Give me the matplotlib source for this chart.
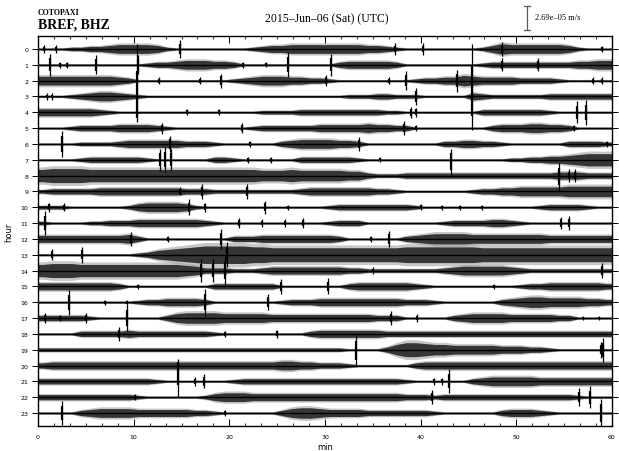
import numpy as np
import matplotlib
matplotlib.use("Agg")
import matplotlib.pyplot as plt
from matplotlib.lines import Line2D

# ---------------- data read from the helicorder ----------------
hours = list(range(24))
minute_ticks = [0, 10, 20, 30, 40, 50, 60]

# envelope half-amplitude per minute (hex digit, 1 step = AMP_STEP of a row)
AMP_STEP = 0.065
envelope = [
    "1112233455 5542111111 1123445555 5555443211 1111112465 5555542111",  # 0
    "1111111111 1233455544 3111111111 1344444311 1111112333 3333334455",  # 1
    "5555555543 1111111111 2345554433 2111111112 3344654444 3333211111",  # 2
    "1112345543 2111111111 1111111111 1122233222 1111143222 2223333333",  # 3
    "4444443211 1111111111 1112222333 3333332211 1111113333 3332111111",  # 4
    "1112333344 4432111111 1123333334 4444544331 1111111344 4554431111",  # 5
    "1111222234 4444433321 1111134555 5443111111 1133443321 1111133332",  # 6
    "1111233333 3211111133 2111111333 3332111111 1111111112 2334456777",  # 7
    "7888877777 7777777777 7776667666 6655322233 3333333333 3333444333",  # 8
    "2333334444 4444433322 2222222344 4444433211 1111123344 5555566666",  # 9
    "2221111112 4555542111 1111111111 2333333332 1111111111 1123333211",  # 10
    "2111122333 4444444321 1111111111 2333111111 1123333443 2111111111",  # 11
    "4444444445 3111111111 3334444444 4311111134 5666655555 5554444444",  # 12
    "1111111111 2356789aaa aa99888888 8888888899 9999998888 8888888888",  # 13
    "7888777777 7777765333 2223444444 4433222222 2234555554 3222222222",  # 14
    "4444444431 1111111133 3333311111 1134444443 2111111111 2334444443",  # 15
    "1111111111 2334444311 1111123334 4444444433 3211111134 5665555443",  # 16
    "3333321111 1113566665 5555444444 4444433311 1113455554 4444331111",  # 17
    "1111333334 3333333321 1111111134 4444443333 3333333333 3333333333",  # 18
    "2222222222 2222222222 2222222222 2211113688 7665555544 4332111111",  # 19
    "3444444444 4444444444 4444455443 3321111113 4444444444 4444444444",  # 20
    "3333333333 3321111111 2333333333 3333333321 1111134555 5544444444",  # 21
    "3333333333 2111111245 5544444444 4444444433 3233333333 3333332111",  # 22
    "1111345555 4444443321 1111135665 4444333333 3211111134 4432111111",  # 23
]

# impulsive events: (hour, minute, extent up [rows], extent down [rows])
spikes = [
    (0, 0.6, .25, .25), (0, 1.9, .25, .25), (0, 14.8, .55, .55), (0, 37.3, .35, .35),
    (0, 40.2, .35, .35), (0, 48.5, .45, .45), (0, 59.0, .2, .2),
    (1, 1.3, .7, .7), (1, 2.3, .2, .2), (1, 3.0, .2, .2), (1, 6.1, .6, .6), (1, 10.5, .6, .6),
    (1, 21.4, .2, .2), (1, 23.8, .15, .15), (1, 26.1, .8, .8), (1, 30.6, .7, .7),
    (1, 48.5, .4, .4), (1, 52.3, .4, .4),
    (2, 12.6, .2, .2), (2, 16.9, .2, .2), (2, 19.1, .45, .45), (2, 30.1, .35, .35),
    (2, 36.7, .2, .2), (2, 38.5, .6, .6), (2, 43.8, .7, .7), (2, 58.0, .2, .2), (2, 59.0, .2, .2),
    (3, 0.9, .2, .2), (3, 1.5, .2, .2), (3, 39.5, .55, .55), (3, 45.4, 3.3, 2.1),
    (4, 10.4, 4.3, 0.6), (4, 15.6, .2, .2), (4, 18.9, .2, .2), (4, 39.0, .35, .35),
    (4, 39.5, .3, .3), (4, 56.3, .7, .7), (4, 57.3, .8, .8),
    (5, 13.0, .35, .35), (5, 21.3, .3, .3), (5, 38.3, .45, .45), (5, 39.5, .2, .2), (5, 56.0, .2, .2),
    (6, 2.5, .8, .8), (6, 13.8, .5, .5), (6, 22.2, .2, .2), (6, 33.6, .45, .45), (6, 59.5, .2, .2),
    (7, 12.8, .7, .7), (7, 13.3, .8, .8), (7, 13.9, .7, .7), (7, 22.0, .2, .2), (7, 24.4, .2, .2),
    (7, 35.7, .15, .15), (7, 43.2, .7, 1.1),
    (8, 54.5, .8, 1.0), (8, 55.5, .4, .4), (8, 56.1, .4, .4),
    (9, 14.8, .25, .25), (9, 17.1, .45, .45), (9, 21.8, .5, .5),
    (10, 1.1, .3, .3), (10, 2.7, .25, .25), (10, 15.8, .5, .5), (10, 17.5, .3, .3),
    (10, 23.7, .4, .4), (10, 26.1, .15, .15), (10, 40.0, .2, .2), (10, 42.2, .15, .15),
    (10, 44.1, .15, .15), (10, 46.4, .15, .15),
    (11, 0.7, .75, .75), (11, 21.0, .3, .3), (11, 23.4, .25, .25), (11, 25.8, .25, .25),
    (11, 27.7, .3, .3), (11, 54.7, .4, .4), (11, 55.5, .45, .45),
    (12, 9.7, .45, .45), (12, 13.6, .2, .2), (12, 19.1, .65, .65), (12, 34.8, .2, .2), (12, 36.7, .5, .5),
    (13, 1.5, .35, .35), (13, 4.6, .5, .5), (13, 19.8, .8, .8),
    (14, 17.0, .7, .7), (14, 18.3, .7, .7), (14, 19.5, .9, .9), (14, 35.0, .2, .2), (14, 59.0, .45, .45),
    (15, 10.5, .15, .15), (15, 25.4, .45, .45), (15, 30.3, .5, .5), (15, 47.7, .15, .15),
    (16, 3.2, .8, .8), (16, 7.0, .15, .15), (16, 9.3, .15, .15), (16, 17.5, .85, .85), (16, 24.0, .5, .5),
    (17, 0.7, .3, .3), (17, 2.3, .2, .2), (17, 5.0, .3, .3), (17, 9.3, .8, .8), (17, 36.9, .45, .45),
    (17, 39.6, .25, .25), (17, 57.0, .15, .15), (17, 58.6, .15, .15),
    (18, 8.5, .45, .45), (18, 19.5, .2, .2), (18, 25.0, .25, .25),
    (19, 33.2, .9, 1.1), (19, 58.8, .5, .5), (19, 59.1, .75, .75),
    (20, 14.6, .4, 2.0),
    (21, 16.4, .3, .3), (21, 17.3, .45, .45), (21, 41.4, .2, .2), (21, 42.2, .2, .2), (21, 43.0, .75, .75),
    (22, 10.1, .2, .2), (22, 41.2, .45, .45), (22, 56.5, .55, .55), (22, 57.7, .7, .7),
    (23, 2.5, .75, .75), (23, 19.5, .2, .2), (23, 58.8, .9, .9),
]

# ---------------- figure ----------------
W, H = 619, 452
fig = plt.figure(figsize=(W / 100, H / 100), dpi=100)
ax = fig.add_axes([38 / W, 1 - 427 / H, (612 - 38) / W, (427 - 37) / H])

minutes = np.concatenate([[0.0], np.arange(60) + 0.5, [60.0]])
for h, env in zip(hours, envelope):
    vals = np.array([int(c, 16) for c in env.replace(" ", "")], dtype=float) * AMP_STEP
    a = np.concatenate([[vals[0]], vals, [vals[-1]]])
    ax.fill_between(minutes, h - 1.2 * a, h + 1.2 * a, color="0.6", lw=0, alpha=0.55)
    ax.fill_between(minutes, h - 0.85 * a, h + 0.85 * a, color="0.15", lw=0, alpha=0.9)
    ax.plot([0, 60], [h, h], color="k", lw=1.0)

for h, m, up, dn in spikes:
    ax.vlines(m, h - up, h + dn, color="k", lw=0.9)
    ax.vlines(m, h - 0.6 * up, h + 0.6 * dn, color="k", lw=1.6)

ax.set_xlim(0, 60)
ax.set_ylim(23 + 13 / 15.83, -13 / 15.83)
ax.set_xticks(minute_ticks)
ax.set_xticks(np.arange(0, 60.01, 10 / 6), minor=True)
ax.set_yticks(hours)
ax.set_yticklabels([str(h) for h in hours])
ax.tick_params(axis="x", which="major", direction="in", length=5, width=0.7,
               top=True, bottom=True, labelsize=4.5, pad=6)
ax.tick_params(axis="x", which="minor", direction="in", length=2.5, width=0.6,
               top=True, bottom=True)
ax.tick_params(axis="y", which="major", direction="out", length=4, width=0.7,
               left=True, right=True, labelsize=4.5, pad=3)
for s in ax.spines.values():
    s.set_linewidth(1.0)

ax.set_xlabel("min", fontsize=6, labelpad=2)
ax.set_ylabel("hour", fontsize=6, labelpad=5)

serif = "Liberation Serif"
fig.text(38 / W, 1 - 13 / H, "COTOPAXI", fontsize=5.7, fontweight="bold",
         family=serif, va="center", ha="left")
fig.text(38 / W, 1 - 25 / H, "BREF, BHZ", fontsize=10, fontweight="bold",
         family=serif, va="center", ha="left")
fig.text(327 / W, 1 - 19 / H, "2015\u2013Jun\u201306 (Sat) (UTC)", fontsize=8.5,
         family=serif, va="center", ha="center")

# amplitude scale bar
xb = 527 / W
fig.add_artist(Line2D([xb, xb], [1 - 7 / H, 1 - 31 / H], color="0.35", lw=0.9))
for yy in (7, 31):
    fig.add_artist(Line2D([xb - 3 / W, xb + 3 / W], [1 - yy / H, 1 - yy / H], color="0.35", lw=0.9))
fig.text(535 / W, 1 - 18 / H, "2.69e\u201305 m/s", fontsize=6, family=serif,
         va="center", ha="left")

fig.savefig("out.png", dpi=100)
